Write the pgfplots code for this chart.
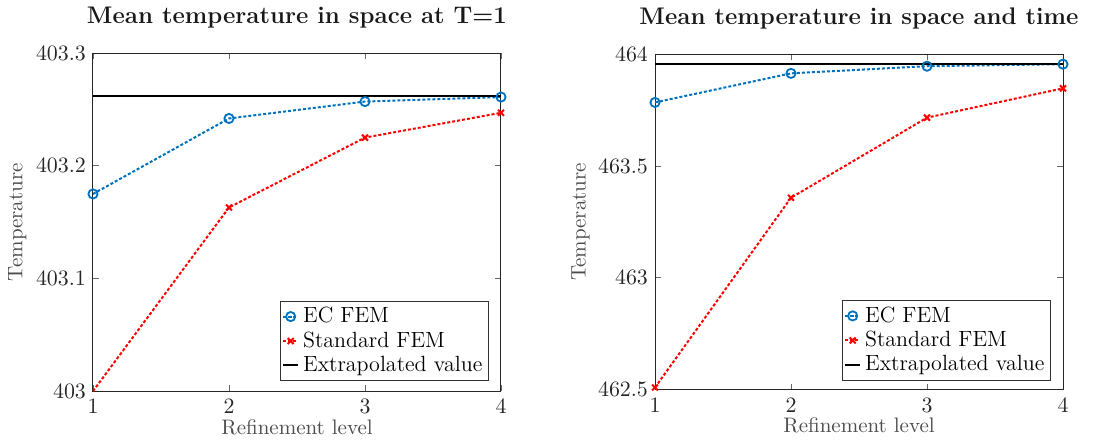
\documentclass[border=0pt]{standalone}
\usepackage{pgfplots}
\pgfplotsset{compat=1.18}
\definecolor{mblue}{rgb}{0,0.447,0.741}
\definecolor{mtext}{gray}{0.15}

\pgfplotsset{
  mataxis/.style={
    scale only axis, width=204pt, height=169pt,
    xmin=1, xmax=4, xtick={1,2,3,4},
    tick align=inside, axis line style={black!85, line width=0.5pt},
    tick style={black!60, line width=0.4pt}, major tick length=3pt,
    ticklabel style={font=\fontsize{11}{13}\selectfont, text=mtext},
    xticklabel style={anchor=base, yshift=-11.3pt},
    label style={font=\fontsize{10.5}{13}\selectfont, text=black!70},
    xlabel style={at={(axis description cs:0.5,0)}, anchor=base, yshift=-21.6pt},
    ylabel style={at={(axis description cs:-0.173,0.5)}, anchor=base},
    title style={font=\fontsize{12}{14}\selectfont\bfseries, text=black!90,
      at={(axis description cs:0.5,1)}, anchor=base, yshift=9pt},
    xlabel={Refinement level}, ylabel={Temperature},
    scaled y ticks=false,
    yticklabel style={/pgf/number format/fixed, /pgf/number format/precision=1},
    legend style={font=\fontsize{11}{12.5}\selectfont, draw=black!80, line width=0.4pt,
      inner sep=1pt, row sep=-1pt, at={(0.97,0.03)}, anchor=south east},
    legend cell align=left,
    legend image code/.code={\draw[mark repeat=2,mark phase=2,#1] plot coordinates {(0cm,0cm) (0.13cm,0cm) (0.26cm,0cm)};},
  },
  ecfem/.style={mblue, line width=1pt, dash pattern=on 1.5pt off 1pt, mark=o, mark size=2.3pt, mark options={solid, line width=0.9pt}},
  stdfem/.style={red, line width=1pt, dash pattern=on 1.5pt off 1pt, mark=x, mark size=2.1pt, mark options={solid, line width=1pt}},
  extra/.style={black, line width=1pt, solid},
}

\begin{document}
\begin{tikzpicture}
\begin{axis}[mataxis, ymin=403, ymax=403.3, ytick={403,403.1,403.2,403.3},
  title={Mean temperature in space at T=1}]
\addplot[ecfem] coordinates {(1,403.175) (2,403.242) (3,403.257) (4,403.261)};
\addlegendentry{EC FEM}
% first point sits on the lower edge; its marker is hidden as in the original
\addplot[stdfem, forget plot, mark repeat=1, mark phase=2] coordinates {(1,403.0) (2,403.163) (3,403.225) (4,403.247)};
\addlegendimage{stdfem}
\addlegendentry{Standard FEM}
\addplot[extra] coordinates {(1,403.262) (4,403.262)};
\addlegendentry{Extrapolated value}
\end{axis}
\begin{axis}[mataxis, at={(281pt,0.7pt)}, height=167.8pt, ymin=462.5, ymax=464, ytick={462.5,463,463.5,464},
  ylabel style={at={(axis description cs:-0.17,0.5)}},
  legend style={at={(0.97,0.028)}},
  title={Mean temperature in space and time}]
\addplot[ecfem] coordinates {(1,463.784) (2,463.914) (3,463.946) (4,463.955)};
\addlegendentry{EC FEM}
\addplot[stdfem] coordinates {(1,462.51) (2,463.358) (3,463.716) (4,463.847)};
\addlegendentry{Standard FEM}
\addplot[extra] coordinates {(1,463.955) (4,463.955)};
\addlegendentry{Extrapolated value}
\end{axis}
\path (-46.5pt,-25.65pt) rectangle (503pt,192.85pt);
\end{tikzpicture}
\end{document}
